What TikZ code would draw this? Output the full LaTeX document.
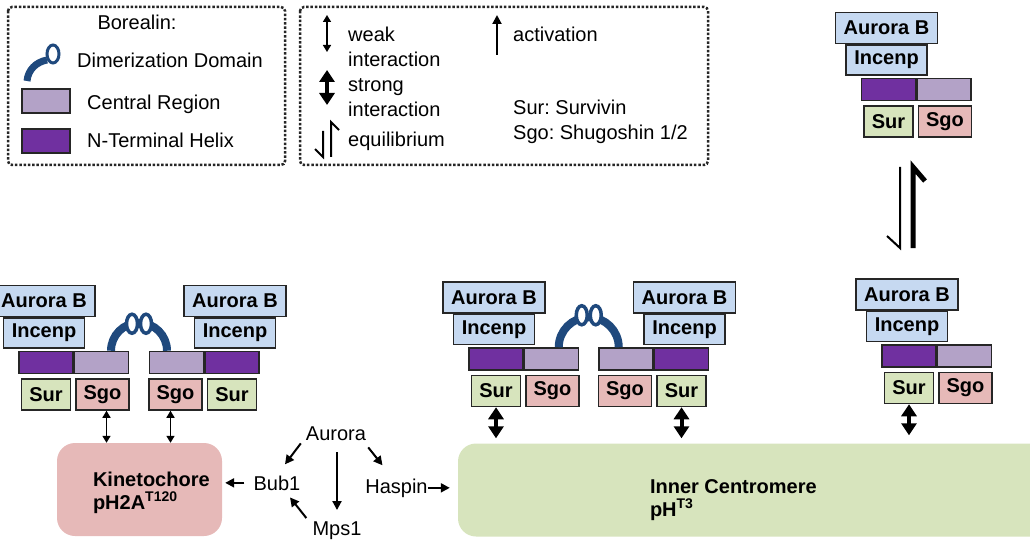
\documentclass[tikz,border=0pt]{standalone}
\usepackage{fontspec}
\setmainfont{Liberation Sans}
\usetikzlibrary{positioning,arrows.meta,calc}
\definecolor{edge}{RGB}{38,38,38}
\definecolor{boxblue}{RGB}{198,217,241}
\definecolor{helixdark}{RGB}{112,48,160}
\definecolor{helixlight}{RGB}{179,162,199}
\definecolor{surgreen}{RGB}{215,228,189}
\definecolor{sgopink}{RGB}{230,185,184}
\definecolor{dimerblue}{RGB}{31,73,125}

\begin{document}
\begin{tikzpicture}[
    x=1pt, y=-1pt,
    font=\fontsize{20}{25}\selectfont\frenchspacing,
    box/.style={draw=edge, line width=1.5pt, inner sep=0pt, font=\bfseries\fontsize{20}{24}\selectfont},
    aur/.style={box, fill=boxblue, minimum width=102pt, minimum height=31pt},
    inc/.style={box, fill=boxblue, minimum width=81pt, minimum height=30pt},
    nth/.style={box, fill=helixdark, minimum width=54pt, minimum height=22pt},
    cen/.style={box, fill=helixlight, minimum width=54pt, minimum height=22pt},
    sur/.style={box, fill=surgreen, minimum width=49pt, minimum height=31pt},
    sgo/.style={box, fill=sgopink, minimum width=53pt, minimum height=31pt},
    site/.style={rounded corners=18pt, minimum height=93pt, inner sep=0pt},
    txt/.style={inner sep=0pt, align=left},
    bold/.style={txt, font=\bfseries\fontsize{20}{23}\selectfont},
    legframe/.style={draw=edge, line width=2.5pt, dash pattern=on 2.5pt off 1.8pt, rounded corners=4pt},
    dimer/.style={draw=dimerblue, line width=8pt},
    ring/.style={draw=dimerblue, line width=3.5pt, fill=white},
    weak/.style={line width=1.5pt, {Triangle[length=7pt,width=8pt]}-{Triangle[length=7pt,width=8pt]}},
    strong/.style={line width=4pt, {Triangle[length=12pt,width=15pt]}-{Triangle[length=12pt,width=15pt]}},
    act/.style={line width=2pt, -{Triangle[length=9pt,width=9pt]}}
]
    \useasboundingbox (0,0) rectangle (1030,540);
    \clip (0,0) rectangle (1030,540);

    % legends
    \draw[legframe] (8,7) rectangle (285,165);
    \draw[legframe] (300,7) rectangle (708,165);
    \node[txt, anchor=base] (borealin) at (137,30) {Borealin:};
    \draw[dimer, line width=7pt] (27,81) .. controls (28,70) and (36,62) .. (47,60);
    \draw[ring, line width=3pt] (53,54) ellipse [x radius=6, y radius=9];
    \node[txt, anchor=base west] (legdim) at (77,68) {Dimerization Domain};
    \node[cen, minimum width=48pt, minimum height=24pt] (legcen) at (46,101) {};
    \node[txt, anchor=base west] (legcentxt) at (87,110) {Central Region};
    \node[nth, minimum width=48pt, minimum height=24pt] (legnth) at (46,141) {};
    \node[txt, anchor=base west] (legnthtxt) at (87,148) {N-Terminal Helix};

    \draw[weak] (327,15) -- (327,52);
    \node[txt, anchor=west] (legweak) at (348,47) {weak\\interaction};
    \draw[strong] (327,70) -- (327,105);
    \node[txt, anchor=west] (legstrong) at (348,98) {strong\\interaction};
    \draw[line width=2pt] (323,131) -- (323,157) -- (315,149);
    \draw[line width=2pt] (331,157) -- (331,122) -- (339,130);
    \node[txt, anchor=base west] (legeq) at (348,147) {equilibrium};
    \draw[act] (497,55) -- (497,15);
    \node[txt, anchor=base west] (legact) at (513,42) {activation};
    \node[txt, anchor=west] (legabbr) at (513,122) {Sur: Survivin\\Sgo: Shugoshin 1/2};

    % kinetochore pair
    \node[aur] (aurKL) at (44,301) {Aurora B};
    \node[inc, below=0pt of aurKL] (incKL) {Incenp};
    \node[nth, below=2pt of incKL, xshift=2pt] (nthKL) {};
    \node[cen, right=0pt of nthKL] (cenKL) {};
    \node[sur, below=4pt of nthKL] (surKL) {Sur};
    \node[sgo, right=4pt of surKL] (sgoKL) {Sgo};

    \node[aur] (aurKR) at (235,301) {Aurora B};
    \node[inc, below=0pt of aurKR] (incKR) {Incenp};
    \node[nth, below=2pt of incKR, xshift=-3pt] (nthKR) {};
    \node[cen, left=0pt of nthKR] (cenKR) {};
    \node[sur, below=4pt of nthKR] (surKR) {Sur};
    \node[sgo, left=4pt of surKR] (sgoKR) {Sgo};

    \coordinate (midK) at ($(cenKL.north east)!0.5!(cenKR.north west)$);
    \draw[dimer] ([xshift=-28]midK) arc[start angle=180, end angle=360, radius=28];
    \draw[ring] ([shift={(-7,-27)}]midK) ellipse [x radius=5.5, y radius=9.5];
    \draw[ring] ([shift={(7,-27)}]midK) ellipse [x radius=5.5, y radius=9.5];

    % inner centromere pair
    \node[aur] (aurCL) at (494,297.5) {Aurora B};
    \node[inc, below=0pt of aurCL] (incCL) {Incenp};
    \node[nth, below=2pt of incCL, xshift=2pt] (nthCL) {};
    \node[cen, right=0pt of nthCL] (cenCL) {};
    \node[sur, below=4pt of nthCL] (surCL) {Sur};
    \node[sgo, right=4pt of surCL] (sgoCL) {Sgo};

    \node[aur] (aurCR) at (684.5,297.5) {Aurora B};
    \node[inc, below=0pt of aurCR] (incCR) {Incenp};
    \node[nth, below=2pt of incCR, xshift=-3pt] (nthCR) {};
    \node[cen, left=0pt of nthCR] (cenCR) {};
    \node[sur, below=4pt of nthCR] (surCR) {Sur};
    \node[sgo, left=4pt of surCR] (sgoCR) {Sgo};

    \coordinate (midC) at ($(cenCL.north east)!0.5!(cenCR.north west)$);
    \draw[dimer] ([xshift=-30]midC) arc[start angle=180, end angle=360, radius=30];
    \draw[ring] ([shift={(-7,-32)}]midC) ellipse [x radius=5.5, y radius=9.5];
    \draw[ring] ([shift={(7,-32)}]midC) ellipse [x radius=5.5, y radius=9.5];

    % monomer, free and bound
    \node[aur] (aurT) at (886.5,28) {Aurora B};
    \node[inc, below=0pt of aurT] (incT) {Incenp};
    \node[nth, below=2pt of incT, xshift=2pt] (nthT) {};
    \node[cen, right=0pt of nthT] (cenT) {};
    \node[sur, below=4pt of nthT] (surT) {Sur};
    \node[sgo, right=4pt of surT] (sgoT) {Sgo};

    \node[aur] (aurR) at (907,294.5) {Aurora B};
    \node[inc, below=0pt of aurR] (incR) {Incenp};
    \node[nth, below=2pt of incR, xshift=2pt] (nthR) {};
    \node[cen, right=0pt of nthR] (cenR) {};
    \node[sur, below=4pt of nthR] (surR) {Sur};
    \node[sgo, right=4pt of surR] (sgoR) {Sgo};

    \coordinate (eqtop) at (906,167);
    \coordinate (eqbot) at (906,248);
    \draw[line width=2pt] ([xshift=-6]eqtop) -- ([xshift=-6]eqbot) -- ++(-13,-12);
    \draw[line width=5pt] ([xshift=7]eqbot) -- ([xshift=7]eqtop) -- ++(12,14);

    % chromatin sites
    \node[site, fill=sgopink, minimum width=165pt] (kin) at (139.5,489.5) {};
    \node[bold, anchor=west] (kintxt) at ([shift={(36,3)}]kin.west) {Kinetochore\\pH2A\textsuperscript{T120}};
    \node[site, fill=surgreen, minimum width=602pt] (icm) at (759,490) {};
    \node[bold, anchor=west] (icmtxt) at ([shift={(192,10)}]icm.west) {Inner Centromere\\pH\textsuperscript{T3}};

    \draw[weak] ([xshift=4]sgoKL.south) -- ([xshift=4]sgoKL.south |- kin.north);
    \draw[weak] ([xshift=-5]sgoKR.south) -- ([xshift=-5]sgoKR.south |- kin.north);
    \draw[strong, shorten >=5pt] (surCL.south) -- (surCL.south |- icm.north);
    \draw[strong, shorten >=5pt] (surCR.south) -- (surCR.south |- icm.north);
    \draw[strong, shorten >=8pt] (surR.south) -- (surR.south |- icm.north);

    % kinase pathway
    \node[txt, anchor=base] (aurora) at (336,440) {Aurora};
    \node[txt, anchor=base] (bub) at (277,490) {Bub1};
    \node[txt, anchor=base] (haspin) at (396.5,493) {Haspin};
    \node[txt, anchor=base] (mps) at (337,535) {Mps1};

    \draw[act] ([shift={(-5,3)}]aurora.south west) -- ([shift={(8,-11)}]bub.north);
    \draw[act] ([shift={(2,7)}]aurora.south east) -- ([shift={(-14,-13)}]haspin.north);
    \draw[act] ([shift={(1,12)}]aurora.south) -- ([shift={(0,-11)}]mps.north);
    \draw[act] ([shift={(-6,-3)}]mps.north west) -- ([shift={(13,7)}]bub.south);
    \draw[act, shorten >=8pt] (haspin.east) -- (haspin.east -| icm.west);
    \draw[act, shorten >=3pt] ([xshift=-9]bub.west) -- (bub.west -| kin.east);
\end{tikzpicture}
\end{document}
